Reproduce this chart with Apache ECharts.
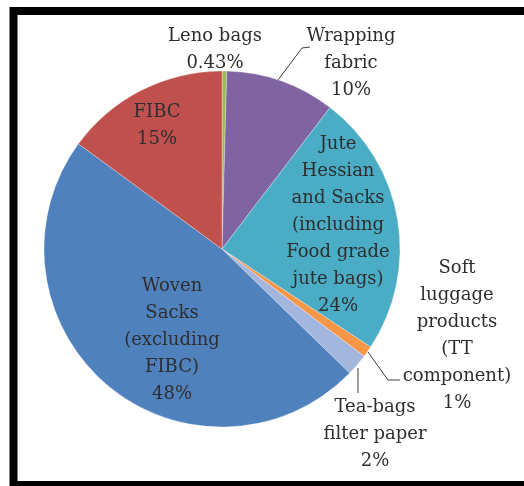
<!DOCTYPE html>
<html>
<head>
<meta charset="utf-8">
<script src="https://cdn.jsdelivr.net/npm/echarts@6/dist/echarts.min.js"></script>
<style>
html,body{margin:0;padding:0;background:#fff;}
#chart{width:524px;height:486px;}
</style>
</head>
<body>
<div id="chart"></div>
<script>
// Categories (clockwise from 12 o'clock), line breaks as in the reference labels
var categories = [
  'Leno bags',
  'Wrapping\nfabric',
  'Jute\nHessian\nand Sacks\n(including\nFood grade\njute bags)',
  'Soft\nluggage\nproducts\n(TT\ncomponent)',
  'Tea-bags\nfilter paper',
  'Woven\nSacks\n(excluding\nFIBC)',
  'FIBC'
];
var shares = [0.43, 10, 24, 1, 2, 48, 15];
var percentLabels = ['0.43%', '10%', '24%', '1%', '2%', '48%', '15%'];
var sliceColors = ['#9BBB59', '#8064A2', '#4BACC6', '#F79646', '#A3B6DE', '#4F81BD', '#C0504D'];

// label placement (layout only)
var labelPos = [
  {x: 215, y: 50},
  {x: 351, y: 63},
  {x: 338, y: 225},
  {x: 457, y: 336},
  {x: 375, y: 434},
  {x: 172, y: 340},
  {x: 157, y: 126}
];
var leaderLines = {
  1: [[278, 80], [302, 48], [310, 47]],
  3: [[368, 352], [388, 380], [400, 380]],
  4: [[358, 368], [358, 380], [358, 393]]
};

var FONT = 'DejaVu Serif';

var chart = echarts.init(document.getElementById('chart'), null, {renderer: 'canvas'});

var data = categories.map(function (c, i) {
  return {
    name: c,
    value: shares[i],
    itemStyle: {color: sliceColors[i]},
    labelLine: {show: !!leaderLines[i]}
  };
});

chart.setOption({
  animation: false,
  backgroundColor: '#ffffff',
  textStyle: {fontFamily: FONT},
  graphic: [
    {
      type: 'rect',
      shape: {x: 13.5, y: 11, width: 530, height: 474},
      style: {fill: 'none', stroke: '#000000', lineWidth: 8},
      z: 10
    }
  ],
  series: [{
    type: 'pie',
    center: [222, 249],
    radius: 178,
    startAngle: 90,
    clockwise: true,
    avoidLabelOverlap: false,
    data: data,
    itemStyle: {borderColor: 'rgba(255,255,255,0.5)', borderWidth: 0.6},
    label: {
      show: true,
      position: 'outside',
      fontFamily: FONT,
      fontSize: 18,
      lineHeight: 27,
      color: '#2e2e2e',
      align: 'center',
      formatter: function (p) { return p.name + '\n' + percentLabels[p.dataIndex]; }
    },
    labelLine: {
      show: true,
      lineStyle: {color: '#404040', width: 1}
    },
    labelLayout: function (params) {
      var i = params.dataIndex;
      var o = {
        x: labelPos[i].x,
        y: labelPos[i].y,
        align: 'center',
        verticalAlign: 'middle'
      };
      if (leaderLines[i]) { o.labelLinePoints = leaderLines[i]; }
      return o;
    }
  }]
});
</script>
</body>
</html>
